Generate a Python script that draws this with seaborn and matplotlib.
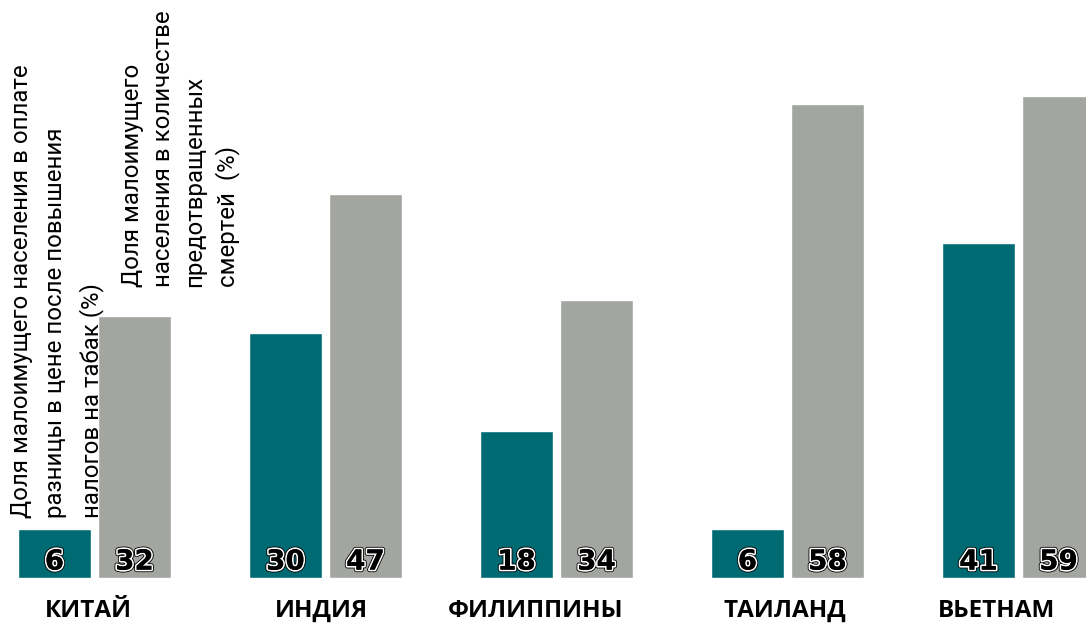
import pandas as pd
import seaborn as sns
import matplotlib.pyplot as plt
import matplotlib.patheffects as pe
import matplotlib.transforms as mtrans

# Data
countries = ["КИТАЙ", "ИНДИЯ", "ФИЛИППИНЫ", "ТАИЛАНД", "ВЬЕТНАМ"]
poor_price_share = [6, 30, 18, 6, 41]
poor_deaths_share = [32, 47, 34, 58, 59]
series_names = ["Доля малоимущего населения в оплате\nразницы в цене после повышения\nналогов на табак (%)",
                "Доля малоимущего\nнаселения в количестве\nпредотвращенных\nсмертей  (%)"]

TEAL = "#006a73"
GRAY = "#a3a6a0"

df = pd.DataFrame({
    "country": countries * 2,
    "series": [series_names[0]] * len(countries) + [series_names[1]] * len(countries),
    "value": poor_price_share + poor_deaths_share,
})

sns.set_style("white")
plt.rcParams['font.family'] = ['Roboto', 'DejaVu Sans']

fig = plt.figure(figsize=(10.86, 6.26), dpi=100)
ax = fig.add_axes([0, 48 / 626, 1, 578 / 626])

sns.barplot(data=df, x="country", y="value", hue="series", palette=[TEAL, GRAY],
            saturation=1, width=0.693, gap=0.0875, legend=False, ax=ax)

ax.set_xlim(-0.409, 4.292)
ax.set_ylim(0, 70.7)
ax.set_xlabel("")
ax.set_ylabel("")
ax.set_yticks([])
sns.despine(ax=ax, left=True, bottom=True)
ax.tick_params(axis="x", length=0, pad=15)

# country labels are not quite centred under their bars in the original
label_shift_px = [-6, -4, -21, -3, -22]
for lbl, dx in zip(ax.get_xticklabels(), label_shift_px):
    lbl.set_fontfamily("Open Sans")
    lbl.set_fontweight("bold")
    lbl.set_fontsize(17.5)
    lbl.set_color("black")
    lbl.set_transform(lbl.get_transform() + mtrans.ScaledTranslation(dx / 100, 0, fig.dpi_scale_trans))

# Value labels at the bottom of each bar
outline = [pe.withStroke(linewidth=3.6, foreground="black"),
           pe.withStroke(linewidth=2.4, foreground="white"),
           pe.Normal()]
for bar in ax.patches:
    h = bar.get_height()
    if h <= 0:
        continue
    ax.text(bar.get_x() + bar.get_width() / 2, 2.0, f"{int(round(h))}",
            ha="center", va="center", fontsize=20, fontweight="bold",
            family="DejaVu Sans", color="black", path_effects=outline)

# Rotated series labels
fig.text(10 / 1086, (626 - 518) / 626, series_names[0], rotation=90,
         ha="left", va="bottom", multialignment="left", fontsize=17.3,
         linespacing=1.62, color="black")
fig.text(121 / 1086, (626 - 287) / 626, series_names[1], rotation=90,
         ha="left", va="bottom", multialignment="left", fontsize=17.3,
         linespacing=1.45, color="black")

plt.savefig("out.png", dpi=100)
